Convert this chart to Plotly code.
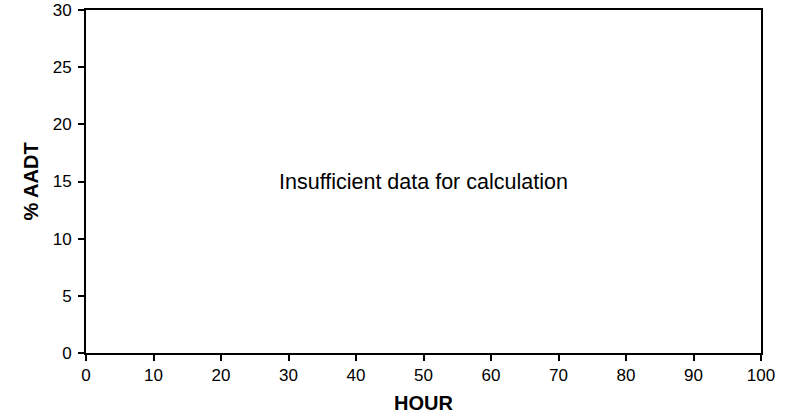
#Empty hourly % AADT chart with "insufficient data" note

import plotly.graph_objs as go

#Axis ticks
hour_ticks = [0, 10, 20, 30, 40, 50, 60, 70, 80, 90, 100]
aadt_ticks = [0, 5, 10, 15, 20, 25, 30]

#No data points available
hours = []
pct_aadt = []

message = "Insufficient data for calculation"
x_title = "HOUR"
y_title = "% AADT"
font_family = 'Liberation Sans, Arial'

data = [go.Scatter(x=hours, y=pct_aadt, mode='lines', showlegend=False)]

axis_style = dict(showline=True, linecolor='black', linewidth=2, mirror=True,
                  ticks='outside', ticklen=6, tickwidth=2, tickcolor='black',
                  showgrid=False, zeroline=False, automargin=False,
                  ticklabeloverflow='allow',
                  tickfont=dict(family=font_family, size=17, color='black'))

layout = go.Layout(
    width=793, height=414,
    margin=dict(l=86, r=32, t=10, b=61),
    paper_bgcolor='white', plot_bgcolor='white',
    xaxis=dict(range=[0, 100], tickvals=hour_ticks,
               title=dict(text='<b>' + x_title + '</b>',
                          font=dict(family=font_family, size=20, color='black')),
               **axis_style),
    yaxis=dict(range=[0, 30], tickvals=aadt_ticks, ticklabelstandoff=3,
               **axis_style),
    annotations=[
        dict(x=50, y=15, xref='x', yref='y', text=message, showarrow=False,
             font=dict(family=font_family, size=21.5, color='black')),
        #y axis title
        dict(x=0, y=0.5, xref='paper', yref='paper', text='<b>' + y_title + '</b>',
             textangle=-90, showarrow=False, xanchor='center', yanchor='middle',
             xshift=-56, font=dict(family=font_family, size=20, color='black')),
    ],
)

fig = go.Figure(data=data, layout=layout)
#drop the default page margin so the figure fills the window
fig.write_html("out.html", config={'displayModeBar': False},
               post_script="document.body.style.margin='0';")
